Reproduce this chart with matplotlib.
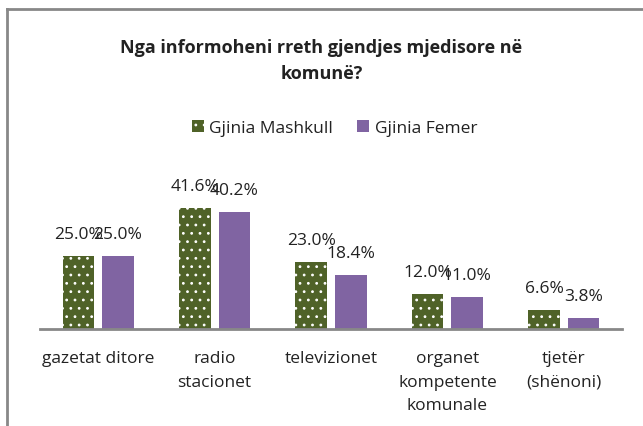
import matplotlib
matplotlib.use("Agg")
import matplotlib.pyplot as plt
from matplotlib.lines import Line2D
import numpy as np

categories = ["gazetat ditore", "radio\nstacionet", "televizionet",
              "organet\nkompetente\nkomunale", "tjetër\n(shënoni)"]
series_names = ["Gjinia Mashkull", "Gjinia Femer"]
male = [25.0, 41.6, 23.0, 12.0, 6.6]
female = [25.0, 40.2, 18.4, 11.0, 3.8]
title = "Nga informoheni rreth gjendjes mjedisore në\nkomunë?"

plt.rcParams['font.family'] = ['Open Sans', 'DejaVu Sans']
plt.rcParams['hatch.linewidth'] = 0.8

W, H = 643, 427
fig = plt.figure(figsize=(W/100, H/100), dpi=100)
ax = fig.add_axes([40/W, (H-330)/H, 582/W, 146/H])

x = np.arange(len(categories))
bw = 0.27
off = 0.17
green = "#4F6228"
purple = "#8064A2"
b1 = ax.bar(x - off, male, bw, color=green, edgecolor="white", linewidth=0, hatch="..")
b2 = ax.bar(x + off, female, bw, color=purple, linewidth=0)

ax.set_xlim(-0.5, len(categories) - 0.5)
ax.set_ylim(0, 50)
for s in ["top", "right", "left"]:
    ax.spines[s].set_visible(False)
ax.spines["bottom"].set_color("#888888")
ax.spines["bottom"].set_linewidth(2)
ax.set_yticks([])
ax.set_xticks(x)
ax.set_xticklabels(categories, fontsize=12.5, color="#222222", linespacing=1.65)
ax.tick_params(axis="x", length=0, pad=15)

for bars, vals in ((b1, male), (b2, female)):
    for b, v in zip(bars, vals):
        ax.annotate(f"{v:.1f}%", (b.get_x() + b.get_width()/2, v),
                    xytext=(0, 10), textcoords="offset points",
                    ha="center", va="bottom", fontsize=12.5, color="#222222",
                    annotation_clip=False)

fig.text(0.5, 1 - 61/H, title, ha="center", va="center", fontsize=13,
         fontweight="bold", color="#222222", linespacing=1.6)

handles = [plt.Rectangle((0, 0), 1, 1, facecolor=green, edgecolor="white", linewidth=0, hatch=".."),
           plt.Rectangle((0, 0), 1, 1, facecolor=purple, linewidth=0)]
fig.legend(handles, series_names, loc="center", bbox_to_anchor=(0.52, 1 - 129/H),
           ncol=2, frameon=False, fontsize=12.5, handlelength=0.7, handleheight=0.7,
           handletextpad=0.3, columnspacing=1.4, labelcolor="#222222")

fig.add_artist(Line2D([7/W, 7/W], [0, 1 - 10/H], color="#888888", lw=2, transform=fig.transFigure))
fig.add_artist(Line2D([7/W, 1], [1 - 10/H, 1 - 10/H], color="#888888", lw=2, transform=fig.transFigure))

fig.savefig("out.png", dpi=100)
